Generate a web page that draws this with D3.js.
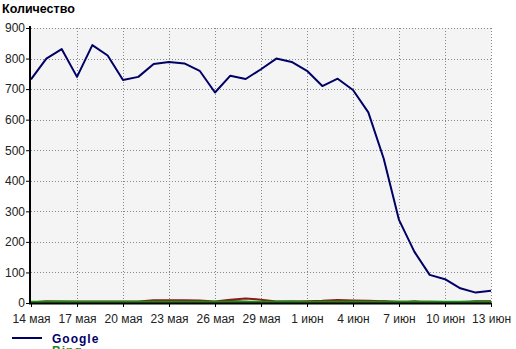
<!DOCTYPE html>
<html>
<head>
<meta charset="utf-8">
<script src="https://cdn.jsdelivr.net/npm/d3@7"></script>
<style>
  body { margin: 0; background: #fff; }
  svg { display: block; font-family: "Liberation Sans", Arial, sans-serif; }
</style>
</head>
<body>
<div id="chart"></div>
<script>
// daily counts, 14 May .. 13 June
const startDate = new Date(2011, 4, 14);
const google = [732, 800, 831, 740, 844, 810, 730, 740, 782, 789, 784, 760, 689, 744, 733, 765,
                800, 789, 760, 710, 734, 697, 624, 473, 272, 168, 92, 78, 48, 34, 40];
const bing = [3, 3, 4, 3, 3, 3, 3, 3, 3, 3, 3, 3, 3, 3, 3, 3, 3, 3, 3, 3, 3, 3, 3, 3, 3, 3, 3, 3, 3, 3, 3];
const other1 = [2, 6, 5, 5, 5, 5, 5, 5, 9, 9, 9, 8, 5, 11, 15, 11, 5, 5, 6, 7, 10, 8, 7, 6, 4, 4, 4, 3, 3, 5, 5];
const other2 = [0, 0, 0, 0, 0, 0, 0, 0, 0, 0, 0, 0, 0, 0, 0, 0, 4, 6, 1, 6, 2, 0, 0, 0, 0, 0, 0, 0, 0, 0, 0];
const other3 = [0, 0, 0, 0, 0, 0, 0, 0, 0, 0, 0, 0, 2, 7, 4, 1, 0, 0, 0, 0, 0, 0, 0, 6, 0, 6, 0, 0, 0, 6, 6];
const tickLabels = ["14 мая", "17 мая", "20 мая", "23 мая", "26 мая", "29 мая",
                    "1 июн", "4 июн", "7 июн", "10 июн", "13 июн"];
const yTicks = [0, 100, 200, 300, 400, 500, 600, 700, 800, 900];

const width = 516, height = 349;
const plot = {left: 31, right: 491, top: 28, bottom: 303};

const day = i => d3.timeDay.offset(startDate, i);

let x = d3.scaleTime()
    .domain([startDate, day(google.length - 1)])
    .range([plot.left, plot.right]);

let y = d3.scaleLinear()
    .domain([0, 900])
    .range([plot.bottom, plot.top]);

let svg = d3.select('#chart').append('svg')
    .attr('width', width)
    .attr('height', height);

svg.append('text')
    .attr('x', 2).attr('y', 13)
    .style('font-size', '12.5px').style('font-weight', 'bold')
    .attr('fill', '#000')
    .text('Количество');

svg.append('rect')
    .attr('x', plot.left).attr('y', plot.top)
    .attr('width', plot.right - plot.left).attr('height', plot.bottom - plot.top)
    .attr('fill', '#f4f4f4');

let tickDates = tickLabels.map((t, i) => day(i * 3));

// grid
let grid = svg.append('g')
    .attr('stroke', '#888')
    .attr('stroke-width', 1)
    .attr('stroke-dasharray', '1,2')
    .attr('shape-rendering', 'crispEdges');

grid.selectAll('.h').data(yTicks.slice(1)).enter().append('line')
    .attr('x1', plot.left).attr('x2', plot.right)
    .attr('y1', d => Math.round(y(d)) + 0.5).attr('y2', d => Math.round(y(d)) + 0.5);

grid.selectAll('.v').data(tickDates.slice(1)).enter().append('line')
    .attr('x1', d => Math.round(x(d)) + 0.5).attr('x2', d => Math.round(x(d)) + 0.5)
    .attr('y1', plot.top).attr('y2', plot.bottom);

// series
let line = d3.line()
    .x((d, i) => x(day(i)))
    .y(d => y(d));

const series = [
    {values: other3, color: '#6b5a2e', w: 2},
    {values: other2, color: '#33bbbb', w: 2},
    {values: other1, color: '#8b1a1a', w: 2},
    {values: bing, color: '#1a8c1a', w: 2.5},
    {values: google, color: '#000066', w: 2}
];

svg.selectAll('path.series').data(series).enter().append('path')
    .attr('class', 'series')
    .attr('d', d => line(d.values))
    .attr('fill', 'none')
    .attr('stroke', d => d.color)
    .attr('stroke-width', d => d.w)
    .attr('stroke-linejoin', 'round');

// axes
let yAxis = d3.axisLeft(y)
    .tickValues(yTicks)
    .tickSize(4)
    .tickPadding(1);

let yg = svg.append('g')
    .attr('transform', `translate(${plot.left - 1},0)`)
    .call(yAxis);
yg.select('.domain').remove();
yg.selectAll('text').style('font-size', '12px').attr('fill', '#222');

let xAxis = d3.axisBottom(x)
    .tickValues(tickDates)
    .tickFormat((d, i) => tickLabels[i])
    .tickSize(4)
    .tickPadding(7);

let xg = svg.append('g')
    .attr('transform', `translate(0,${plot.bottom})`)
    .call(xAxis);
xg.select('.domain').remove();
xg.selectAll('text').style('font-size', '12px').attr('fill', '#222');

svg.append('line')
    .attr('x1', plot.left - 1).attr('x2', plot.left - 1)
    .attr('y1', plot.top - 2).attr('y2', plot.bottom + 1)
    .attr('stroke', '#000').attr('stroke-width', 2);
svg.append('line')
    .attr('x1', plot.left - 2).attr('x2', plot.right + 1)
    .attr('y1', plot.bottom + 0.5).attr('y2', plot.bottom + 0.5)
    .attr('stroke', '#000').attr('stroke-width', 2);

// legend
const legendNames = ['Google', 'Bing'];
const legendColors = ['#000066', '#1a8c1a'];
let lg = svg.selectAll('.legend').data(legendNames).enter().append('g')
    .attr('transform', (d, i) => `translate(0,${338 + i * 12})`);
lg.append('line')
    .attr('x1', 12).attr('x2', 42)
    .attr('stroke', (d, i) => legendColors[i]).attr('stroke-width', 2)
    .filter((d, i) => i > 0).remove();
lg.append('text')
    .attr('x', 52).attr('y', 5)
    .style('font-size', '12px').style('font-weight', 'bold')
    .style('letter-spacing', '1px')
    .attr('fill', (d, i) => legendColors[i])
    .text(d => d);
</script>
</body>
</html>
